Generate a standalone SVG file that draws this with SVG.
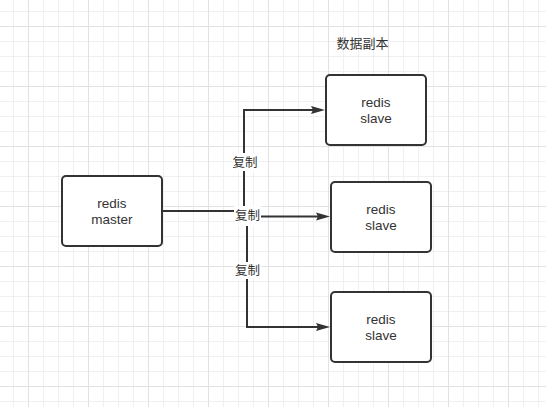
<svg xmlns="http://www.w3.org/2000/svg" width="546" height="407" viewBox="0 0 546 407">
  <defs>
    <pattern id="minor" patternUnits="userSpaceOnUse" x="13" y="11" width="15" height="15">
      <rect x="0" y="0" width="15" height="1" fill="#f0f0f0"/>
      <rect x="0" y="0" width="1" height="15" fill="#f0f0f0"/>
    </pattern>
    <pattern id="major" patternUnits="userSpaceOnUse" x="28" y="26" width="60" height="60">
      <rect x="0" y="0" width="60" height="1" fill="#e2e2e2"/>
      <rect x="0" y="0" width="1" height="60" fill="#e2e2e2"/>
    </pattern>
    <marker id="arrow" markerUnits="userSpaceOnUse" markerWidth="14" markerHeight="10" refX="7" refY="5" orient="auto" viewBox="0 0 14 10">
      <path d="M0,1 L14,5 L0,9 L2,5 Z" fill="#333333"/>
    </marker>
    <style>
      .node rect { fill: #ffffff; stroke: #333333; stroke-width: 2; }
      .node text { font-family: "Liberation Sans", "Noto Sans CJK SC", sans-serif; font-size: 13.5px; fill: #333333; text-anchor: middle; }
      .edge { fill: none; stroke: #333333; stroke-width: 2; marker-end: url(#arrow); }
      .lbl rect { fill: #ffffff; }
      .lbl text { font-family: "Noto Sans CJK SC", sans-serif; font-size: 12.5px; fill: #333333; text-anchor: middle; }
      .title { font-family: "Noto Sans CJK SC", sans-serif; font-size: 13px; fill: #333333; text-anchor: middle; }
    </style>
  </defs>
  <rect width="546" height="407" fill="#ffffff"/>
  <rect width="546" height="407" fill="url(#minor)"/>
  <rect width="546" height="407" fill="url(#major)"/>

  <g id="connectors">
    <path class="edge" d="M162 211 H244 V110 H318"/>
    <path class="edge" d="M162 211 H247 V216.5 H323"/>
    <path class="edge" d="M162 211 H247 V327 H323"/>
    <g class="lbl">
      <rect x="232" y="153" width="26" height="18"/>
      <text x="245" y="166.5">复制</text>
      <rect x="234" y="206" width="27" height="20"/>
      <text x="247.5" y="220">复制</text>
      <rect x="234" y="262" width="27" height="17"/>
      <text x="247.5" y="274.5">复制</text>
    </g>
  </g>

  <g id="master" class="node">
    <rect x="62" y="176" width="100" height="70" rx="4"/>
    <text x="112" y="208">redis</text>
    <text x="112" y="224">master</text>
  </g>
  <g id="slave1" class="node">
    <rect x="326" y="75" width="100" height="70" rx="4"/>
    <text x="376" y="107">redis</text>
    <text x="376" y="123">slave</text>
  </g>
  <g id="slave2" class="node">
    <rect x="331" y="182" width="100" height="70" rx="4"/>
    <text x="381" y="214">redis</text>
    <text x="381" y="230">slave</text>
  </g>
  <g id="slave3" class="node">
    <rect x="331" y="292" width="100" height="70" rx="4"/>
    <text x="381" y="324">redis</text>
    <text x="381" y="340">slave</text>
  </g>

  <g id="title">
    <text class="title" x="362.5" y="48">数据副本</text>
  </g>
</svg>
